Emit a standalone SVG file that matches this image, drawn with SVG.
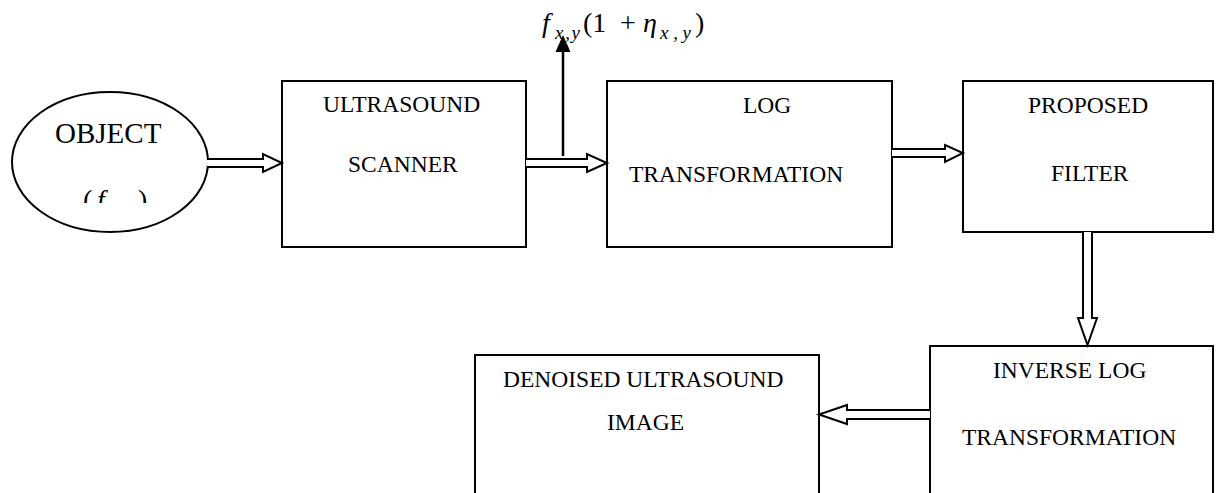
<svg xmlns="http://www.w3.org/2000/svg" width="1216" height="493" viewBox="0 0 1216 493">
<style>
.box{fill:#fff;stroke:#000;stroke-width:2}
.t{font-family:"Liberation Serif","Times New Roman",serif;font-size:23.5px;fill:#000}
.m{font-family:"Liberation Serif","Times New Roman",serif;font-size:28px;fill:#000}
.i{font-style:italic}
.s{font-family:"Liberation Serif","Times New Roman",serif;font-size:19px;font-style:italic;fill:#000}
.arr{fill:#fff;stroke:#000;stroke-width:2;stroke-linejoin:miter}
</style>
<defs>
<clipPath id="clipF"><rect x="60" y="180" width="110" height="23"/></clipPath>
</defs>
<rect width="1216" height="493" fill="#fff"/>

<g id="object">
<ellipse cx="110" cy="162" rx="98" ry="70" class="box"/>
<text x="55" y="143" class="t" style="font-size:29px">OBJECT</text>
<g clip-path="url(#clipF)">
<text x="83" y="209" class="m">(</text>
<text x="97" y="209" class="m i">f</text>
<text x="138" y="209" class="m">)</text>
</g>
</g>

<g id="scanner">
<rect x="282" y="81" width="244" height="166" class="box"/>
<text x="323" y="112" class="t">ULTRASOUND</text>
<text x="348" y="172" class="t">SCANNER</text>
</g>

<g id="log">
<rect x="607" y="81" width="285" height="166" class="box"/>
<text x="743" y="113" class="t">LOG</text>
<text x="629" y="182" class="t">TRANSFORMATION</text>
</g>

<g id="filter">
<rect x="963" y="81" width="250" height="151" class="box"/>
<text x="1028" y="113" class="t">PROPOSED</text>
<text x="1051" y="181" class="t">FILTER</text>
</g>

<g id="inverse">
<rect x="930" y="346" width="283" height="180" class="box"/>
<text x="993" y="378" class="t">INVERSE LOG</text>
<text x="962" y="445" class="t">TRANSFORMATION</text>
</g>

<g id="denoised">
<rect x="475" y="355" width="344" height="170" class="box"/>
<text x="503" y="387" class="t">DENOISED ULTRASOUND</text>
<text x="607" y="430" class="t">IMAGE</text>
</g>

<g id="noise-label">
<text x="542" y="32" class="m i">f</text>
<text x="555" y="39" class="s" textLength="25" lengthAdjust="spacing">x,y</text>
<text x="583" y="32" class="m">(1</text>
<text x="628" y="32" class="m" text-anchor="middle">+</text>
<text x="643" y="32" class="m i">η</text>
<text x="660" y="39" class="s" textLength="31" lengthAdjust="spacing">x,y</text>
<text x="695" y="32" class="m">)</text>
</g>

<g id="connectors">
<path class="arr" d="M207 159 H263 V154 L282 163 L263 172 V167 H207"/>
<path class="arr" d="M526 159 H587 V154 L607 163 L587 172 V167 H526"/>
<path class="arr" d="M892 149 H945 V145 L963 153 L945 162 V157 H892"/>
<path class="arr" d="M1083 232 V318 H1078 L1087.5 345 L1097 318 H1092 V232"/>
<path class="arr" d="M930 410 H847 V405 L819 414.5 L847 424 V419 H930"/>
<line x1="563" y1="156" x2="563" y2="48" stroke="#000" stroke-width="2.5"/>
<polygon points="563,35 555.5,52 570.5,52" fill="#000"/>
</g>
</svg>
